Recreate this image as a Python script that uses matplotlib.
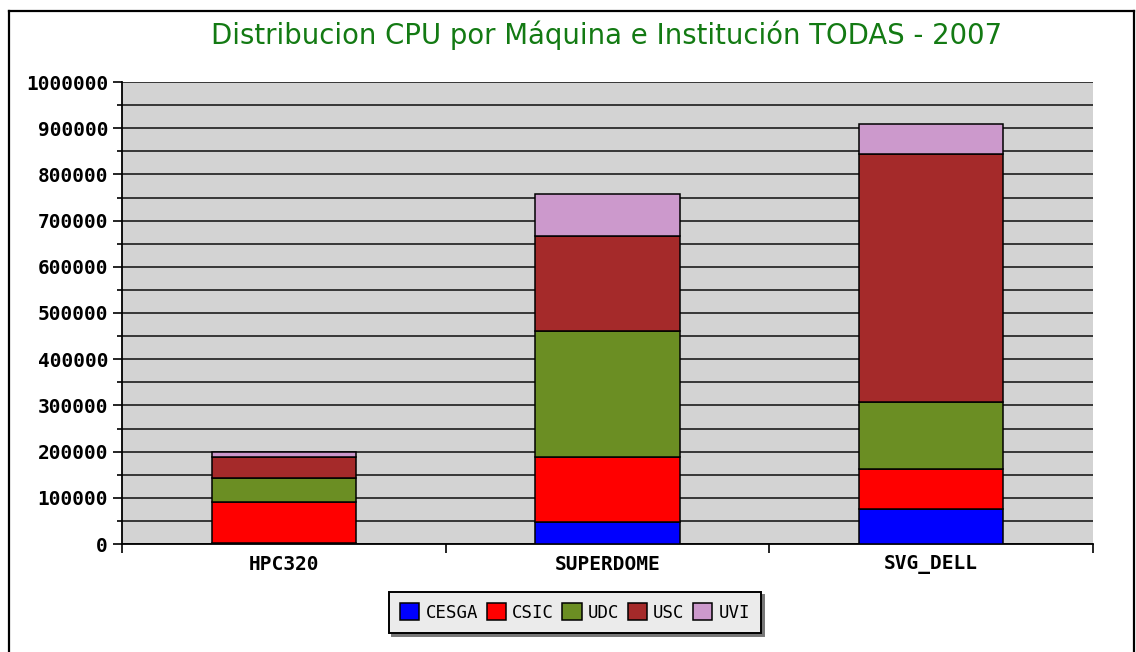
import matplotlib
matplotlib.use("Agg")
import matplotlib.pyplot as plt
from matplotlib.lines import Line2D
import numpy as np

machines = ["HPC320", "SUPERDOME", "SVG_DELL"]
institutions = ["CESGA", "CSIC", "UDC", "USC", "UVI"]
cesga = [3000, 47000, 76000]
csic = [88000, 142000, 86000]
udc = [52000, 273000, 145000]
usc = [45000, 204000, 537000]
uvi = [11000, 91000, 65000]
series = [cesga, csic, udc, usc, uvi]
colors = ["#0000ff", "#ff0000", "#6b8e23", "#a52a2a", "#cc99cc"]
yticks = [0, 100000, 200000, 300000, 400000, 500000, 600000, 700000, 800000, 900000, 1000000]
title = "Distribucion CPU por Máquina e Institución TODAS - 2007"

fig = plt.figure(figsize=(11.36, 6.52), dpi=100)
fig.patch.set_facecolor("white")

# outer frame
W, H = 1136, 652
fx = lambda p: p / W
fy = lambda p: 1 - p / H
frame_kw = dict(color="black", linewidth=1.6, transform=fig.transFigure)
fig.add_artist(Line2D([fx(9), fx(9)], [fy(10.5), -0.05], **frame_kw))
fig.add_artist(Line2D([fx(9), fx(1134)], [fy(10.5), fy(10.5)], **frame_kw))
fig.add_artist(Line2D([fx(1134), fx(1134)], [fy(10.5), -0.05], **frame_kw))

ax = fig.add_axes([122 / W, 1 - 544 / H, (1093 - 122) / W, (544 - 82) / H])
ax.set_facecolor("#d3d3d3")

x = np.arange(len(machines))
bottom = np.zeros(len(machines))
for name, vals, c in zip(institutions, series, colors):
    ax.bar(x, vals, width=0.446, bottom=bottom, color=c, edgecolor="black",
           linewidth=1.1, label=name, zorder=3)
    bottom += np.array(vals)

ax.set_xlim(-0.5, 2.5)
ax.set_ylim(0, 1000000)
ax.set_yticks(yticks)
ax.set_yticklabels([str(v) for v in yticks], family="DejaVu Sans Mono",
                   fontweight="bold", fontsize=14)
ax.set_yticks(np.arange(50000, 1000000, 100000), minor=True)
ax.yaxis.grid(True, which="both", color="#2a2a2a", linewidth=1.3, zorder=0)
ax.set_axisbelow(True)
ax.tick_params(axis="y", which="major", length=6.5, width=1.2, pad=3.5)
ax.tick_params(axis="y", which="minor", length=3.6, width=1.2)

ax.set_xticks([-0.5, 0.5, 1.5, 2.5])
ax.set_xticklabels([])
ax.set_xticks(x, minor=True)
ax.set_xticklabels(machines, minor=True, family="DejaVu Sans Mono",
                   fontweight="bold", fontsize=14)
ax.tick_params(axis="x", which="major", length=6.5, width=1.2)
ax.tick_params(axis="x", which="minor", length=0, pad=8)

for s in ["top", "right"]:
    ax.spines[s].set_visible(False)
for s in ["left", "bottom"]:
    ax.spines[s].set_linewidth(1.3)
    ax.spines[s].set_color("black")

fig.text(606.5 / W, fy(35), title, ha="center", va="center", fontsize=19.8,
         color="#137a13", family="DejaVu Sans")

leg = fig.legend(loc="center", bbox_to_anchor=(575 / W, 1 - 612.5 / H), ncol=5,
                 prop={"family": "DejaVu Sans Mono", "size": 12.5},
                 handlelength=1.1, handleheight=1.1, handletextpad=0.35,
                 columnspacing=0.5, borderpad=0.65, fancybox=False,
                 framealpha=1, facecolor="#ebebeb", edgecolor="black",
                 shadow={"color": "#777777", "alpha": 1})
leg.get_frame().set_linewidth(1.4)

fig.savefig("out.png", dpi=100)
